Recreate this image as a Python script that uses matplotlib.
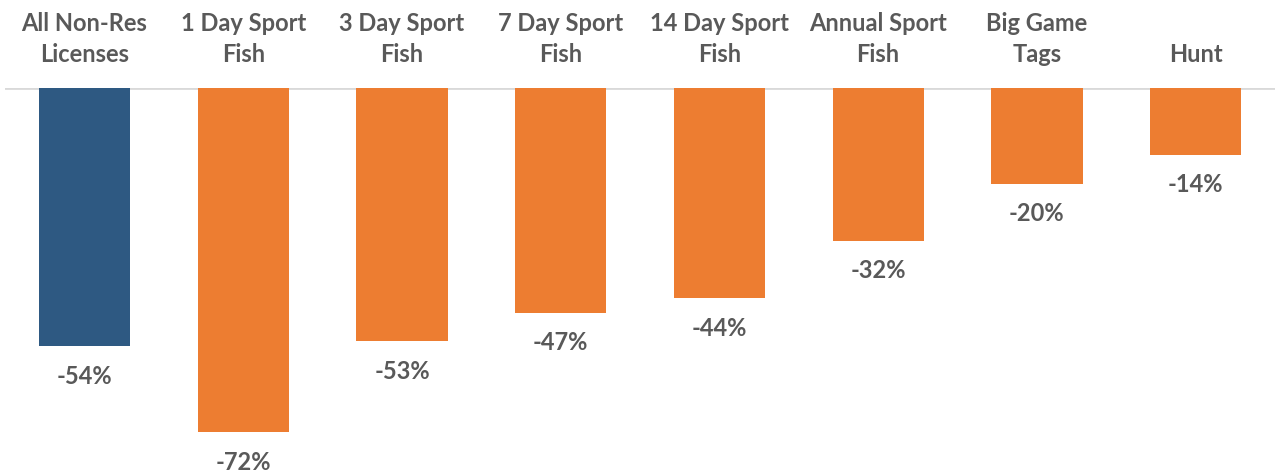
import numpy as np
import matplotlib.pyplot as plt

categories = ["All Non-Res\nLicenses", "1 Day Sport\nFish", "3 Day Sport\nFish", "7 Day Sport\nFish",
              "14 Day Sport\nFish", "Annual Sport\nFish", "Big Game\nTags", "Hunt"]
changes = [-54, -72, -53, -47, -44, -32, -20, -14]
labels = ["-54%", "-72%", "-53%", "-47%", "-44%", "-32%", "-20%", "-14%"]

blue = "#2E5982"
orange = "#ED7D31"
gray_text = "#595959"
colors = [blue] + [orange] * (len(changes) - 1)

plt.rcParams['font.family'] = ['Lato', 'DejaVu Sans']

fig = plt.figure(figsize=(12.75, 4.72), dpi=100)
ax = fig.add_axes([0.004, 0.0, 0.996, 384 / 472])

x = np.arange(len(changes))
bars = ax.bar(x, changes, width=0.575, color=colors)

ax.set_xlim(-0.5, len(changes) - 0.5)
ax.set_ylim(-80.3, 0)
ax.axhline(0, color="#D9D9D9", lw=2, zorder=0)

for xi, v, lab in zip(x, changes, labels):
    ax.annotate(lab, (xi, v), xytext=(0, -21.5), textcoords="offset points",
                ha="center", va="center", fontsize=17, fontweight="bold", color=gray_text)

for xi, cat in zip(x, categories):
    ax.annotate(cat, (xi, 0), xytext=(0, 16), textcoords="offset points",
                ha="center", va="bottom", fontsize=17, fontweight="bold",
                color=gray_text, linespacing=1.4, annotation_clip=False)

ax.axis("off")
fig.savefig("out.png", dpi=100)
